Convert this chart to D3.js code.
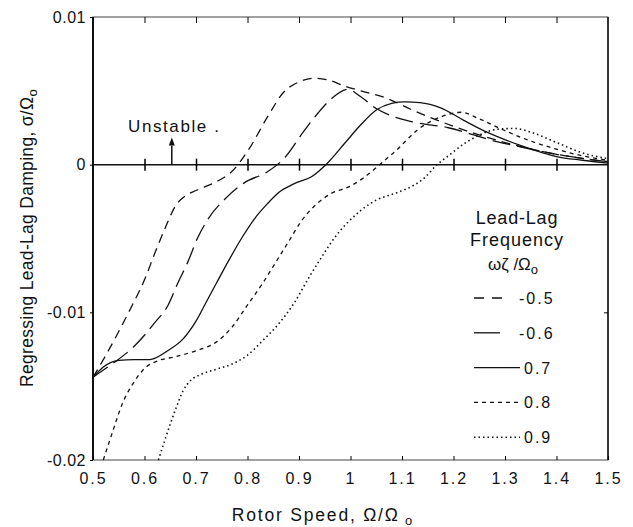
<!DOCTYPE html>
<html><head><meta charset="utf-8">
<script src="https://cdn.jsdelivr.net/npm/d3@7"></script>
<style>body{margin:0;background:#fff;} svg{display:block;} text{font-family:"Liberation Sans",Arial,sans-serif;fill:#111;}</style>
</head><body>
<script>
// Data: rotor speed (Ω/Ωo) vs regressing lead-lag damping (σ/Ωo, in units of 0.001)
const seriesNames = ["-0.5", "-0.6", "0.7", "0.8", "0.9"];
const s05 = [[0.5,-14.4],[0.525,-12.9],[0.55,-11.3],[0.575,-9.6],[0.6,-7.8],[0.62,-6.0],[0.64,-4.3],[0.66,-2.8],[0.68,-2.1],[0.7,-1.75],[0.74,-1.15],[0.77,-0.45],[0.8,0.9],[0.84,3.3],[0.87,4.9],[0.9,5.6],[0.93,5.85],[0.96,5.7],[0.99,5.3],[1.02,5.0],[1.07,4.5],[1.12,3.7],[1.2,2.6],[1.3,1.5],[1.4,0.7],[1.5,0.2]];
const s06 = [[0.5,-14.4],[0.52,-13.9],[0.545,-13.3],[0.58,-12.3],[0.62,-10.7],[0.646,-9.5],[0.665,-8.0],[0.684,-6.6],[0.704,-4.9],[0.723,-3.7],[0.76,-2.2],[0.795,-1.2],[0.838,-0.5],[0.873,0.5],[0.908,2.2],[0.937,3.5],[0.964,4.5],[0.995,5.1],[1.02,4.6],[1.05,3.8],[1.08,3.3],[1.12,2.9],[1.19,2.5],[1.28,1.6],[1.33,1.2],[1.4,0.7],[1.5,0.2]];
const s07 = [[0.5,-14.4],[0.52,-13.7],[0.55,-13.25],[0.58,-13.2],[0.61,-13.2],[0.645,-12.6],[0.675,-11.8],[0.7,-10.6],[0.72,-9.3],[0.74,-8.0],[0.765,-6.4],[0.79,-4.9],[0.815,-3.6],[0.84,-2.6],[0.86,-1.9],[0.89,-1.3],[0.925,-0.8],[0.955,0.1],[0.99,1.5],[1.02,2.7],[1.05,3.7],[1.08,4.15],[1.105,4.25],[1.135,4.2],[1.175,3.85],[1.22,3.0],[1.265,2.2],[1.33,1.3],[1.4,0.55],[1.45,0.3],[1.5,0.1]];
const s08 = [[0.52,-20],[0.537,-18.2],[0.558,-16.1],[0.58,-14.7],[0.6,-13.8],[0.625,-13.3],[0.66,-13.0],[0.7,-12.6],[0.74,-12.0],[0.77,-11.0],[0.8,-9.5],[0.83,-8.0],[0.855,-6.6],[0.88,-5.2],[0.905,-3.8],[0.93,-2.8],[0.96,-2.0],[1.0,-1.45],[1.025,-0.9],[1.05,-0.2],[1.07,0.4],[1.09,1.0],[1.11,1.7],[1.13,2.35],[1.16,3.0],[1.19,3.4],[1.215,3.55],[1.25,3.1],[1.3,2.3],[1.35,1.6],[1.4,1.05],[1.45,0.6],[1.5,0.3]];
const s09 = [[0.627,-20],[0.64,-18.6],[0.66,-16.6],[0.675,-15.3],[0.69,-14.6],[0.71,-14.2],[0.74,-13.85],[0.77,-13.5],[0.8,-12.9],[0.83,-11.9],[0.86,-10.8],[0.89,-9.4],[0.92,-7.6],[0.945,-6.2],[0.97,-4.9],[0.995,-3.9],[1.02,-3.1],[1.05,-2.4],[1.09,-1.9],[1.12,-1.45],[1.145,-0.85],[1.165,-0.1],[1.19,0.6],[1.22,1.4],[1.25,2.0],[1.285,2.4],[1.32,2.45],[1.35,2.2],[1.4,1.5],[1.45,0.8],[1.5,0.4]];
const seriesData = [s05, s06, s07, s08, s09];
const xTicks = [0.5,0.6,0.7,0.8,0.9,1,1.1,1.2,1.3,1.4,1.5];
const yTicks = [0.01, 0, -0.01, -0.02];
const yTickLabels = ["0.01", "0", "-0.01", "-0.02"];

const W = 633, H = 527;
const m = {l:93, r:25, t:17, b:67};
const svg = d3.select("body").append("svg").attr("width", W).attr("height", H);
const x = d3.scaleLinear().domain([0.5,1.5]).range([m.l, W-m.r]);
const y = d3.scaleLinear().domain([-0.02,0.01]).range([H-m.b, m.t]);

const dashes = ["9,6", "18,7", null, "4,4", "1.5,3"];

// frame
svg.append("rect").attr("x", x(0.5)).attr("y", y(0.01)).attr("width", x(1.5)-x(0.5)).attr("height", y(-0.02)-y(0.01))
  .attr("fill","none").attr("stroke","#444").attr("stroke-width",1);
svg.append("line").attr("x1",x(0.5)).attr("x2",x(0.5)).attr("y1",y(0.01)).attr("y2",y(-0.02)).attr("stroke","#111").attr("stroke-width",2);
svg.append("line").attr("x1",x(1.5)).attr("x2",x(1.5)).attr("y1",y(0.01)).attr("y2",y(-0.02)).attr("stroke","#111").attr("stroke-width",1.5);
// zero line
svg.append("line").attr("x1",x(0.5)).attr("x2",x(1.5)).attr("y1",y(0)).attr("y2",y(0)).attr("stroke","#111").attr("stroke-width",1.5);

// bottom axis (inward ticks)
const xb = d3.axisBottom(x).tickValues(xTicks).tickSize(-4).tickPadding(13).tickFormat(d=>d3.format("")(d));
const gx = svg.append("g").attr("transform",`translate(0,${y(-0.02)})`).call(xb);
gx.select(".domain").remove();
gx.selectAll("text").attr("font-size",16).attr("letter-spacing","2px");
// top axis ticks
const gt = svg.append("g").attr("transform",`translate(0,${y(0.01)})`).call(d3.axisTop(x).tickValues(xTicks.slice(1,-1)).tickSize(-6).tickFormat(""));
gt.select(".domain").remove();
// zero-line ticks
const gz = svg.append("g").attr("transform",`translate(0,${y(0)})`).call(d3.axisBottom(x).tickValues(xTicks.slice(1,-1)).tickSize(6).tickFormat(""));
gz.select(".domain").remove();
gz.selectAll(".tick line").attr("y1",-6).attr("stroke-width",1.5);
// left axis
const gy = svg.append("g").attr("transform",`translate(${x(0.5)},0)`).call(d3.axisLeft(y).tickValues(yTicks).tickSize(3).tickPadding(4).tickFormat((d,i)=>yTickLabels[i]));
gy.select(".domain").remove();
gy.selectAll("text").attr("font-size",16).attr("letter-spacing","0.5px");
// right axis tick
const gr = svg.append("g").attr("transform",`translate(${x(1.5)},0)`).call(d3.axisRight(y).tickValues([-0.01]).tickSize(-4).tickFormat(""));
gr.select(".domain").remove();

// curves
const line = d3.line().x(d=>x(d[0])).y(d=>y(d[1]/1000)).curve(d3.curveMonotoneX);
seriesData.forEach((s,i)=>{
  svg.append("path").datum(s).attr("d",line).attr("fill","none").attr("stroke","#111")
    .attr("stroke-width", i===4?1.6:1.3).attr("stroke-dasharray", dashes[i]);
});

// Unstable annotation
svg.append("text").attr("x",128).attr("y",132).attr("font-size",17).attr("letter-spacing","1.6px").text("Unstable .");
svg.append("line").attr("x1",x(0.653)).attr("x2",x(0.653)).attr("y1",y(0)).attr("y2",y(0.0013)).attr("stroke","#111").attr("stroke-width",1.5);
svg.append("path").attr("d",`M${x(0.653)-3},${y(0.0013)} L${x(0.653)+3},${y(0.0013)} L${x(0.653)},${y(0.0013)-8}Z`).attr("fill","#111");

// legend
const lgX = 517;
svg.append("text").attr("x",lgX).attr("y",224).attr("text-anchor","middle").attr("font-size",18).attr("letter-spacing","0.8px").text("Lead-Lag");
svg.append("text").attr("x",lgX).attr("y",246).attr("text-anchor","middle").attr("font-size",18).attr("letter-spacing","1px").text("Frequency");
const t3 = svg.append("text").attr("x",lgX-4).attr("y",270).attr("text-anchor","middle").attr("font-size",17);
t3.append("tspan").text("ωζ /Ω");
t3.append("tspan").attr("dy",4).attr("font-size",13).text("o");
const lgEnd = [503, 500, 520, 520, 520];
seriesNames.forEach((n,i)=>{
  const yy = 298 + i*34.8;
  svg.append("line").attr("x1",474).attr("x2",lgEnd[i]).attr("y1",yy).attr("y2",yy).attr("stroke","#111")
    .attr("stroke-width", i===4?1.6:1.3).attr("stroke-dasharray", i===0?"10,8":i===1?null:dashes[i]);
  svg.append("text").attr("x", n.startsWith("-")?519:524).attr("y",yy+6).attr("font-size",16).attr("letter-spacing","2px").text(n);
});

// axis titles
const xt = svg.append("text").attr("x",323).attr("y",521).attr("text-anchor","middle").attr("font-size",17.5).attr("letter-spacing","1.8px");
xt.append("tspan").text("Rotor Speed, Ω/Ω");
xt.append("tspan").attr("dy",4).attr("font-size",13).text(" o");
const yt = svg.append("text").attr("transform",`translate(33,238) rotate(-90)`).attr("text-anchor","middle").attr("font-size",17.5).attr("letter-spacing","0.3px");
yt.append("tspan").text("Regressing Lead-Lag Damping, σ/Ω");
yt.append("tspan").attr("dy",4).attr("font-size",13).text("o");
</script>
</body></html>
